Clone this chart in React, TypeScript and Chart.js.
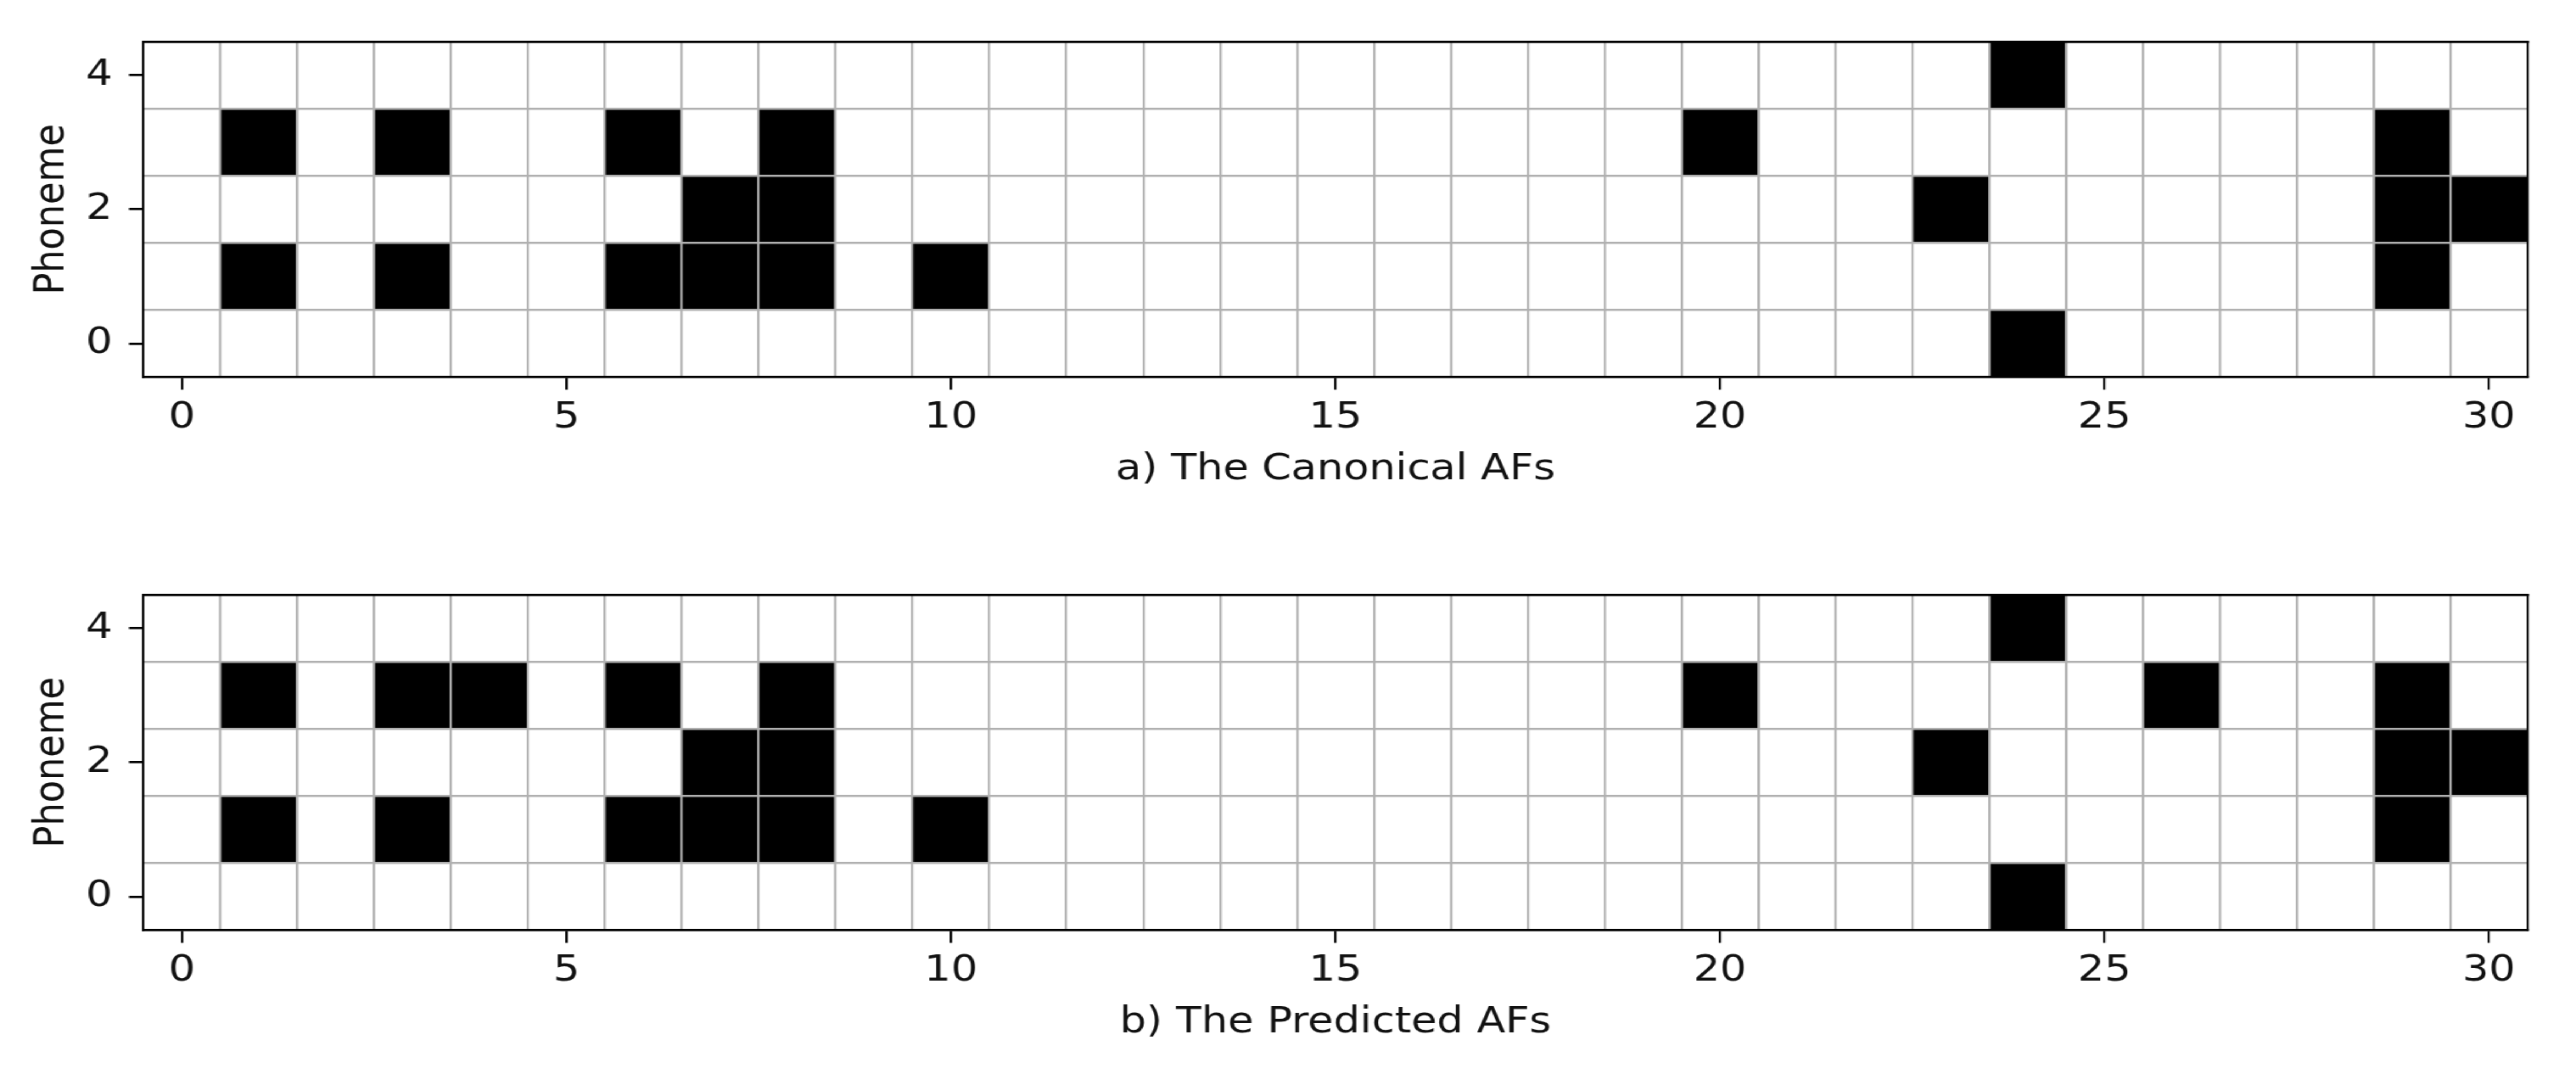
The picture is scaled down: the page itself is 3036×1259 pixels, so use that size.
import React, { useEffect, useRef } from 'react';
import { Chart, registerables } from 'chart.js';

Chart.register(...registerables);

// ---------- data ----------
const COLUMNS = [0, 1, 2, 3, 4, 5, 6, 7, 8, 9, 10, 11, 12, 13, 14, 15, 16, 17, 18, 19, 20, 21, 22, 23, 24, 25, 26, 27, 28, 29, 30];
const ROWS = [0, 1, 2, 3, 4];
const X_TICKS = [0, 5, 10, 15, 20, 25, 30];
const Y_TICKS = [0, 2, 4];
const Y_TITLE = 'Phoneme';
const CAPTION_A = 'a) The Canonical AFs';
const CAPTION_B = 'b) The Predicted AFs';

// canonical AFs (1 = active), one array per phoneme row
const canonicalRow0 = [0, 0, 0, 0, 0, 0, 0, 0, 0, 0, 0, 0, 0, 0, 0, 0, 0, 0, 0, 0, 0, 0, 0, 0, 1, 0, 0, 0, 0, 0, 0];
const canonicalRow1 = [0, 1, 0, 1, 0, 0, 1, 1, 1, 0, 1, 0, 0, 0, 0, 0, 0, 0, 0, 0, 0, 0, 0, 0, 0, 0, 0, 0, 0, 1, 0];
const canonicalRow2 = [0, 0, 0, 0, 0, 0, 0, 1, 1, 0, 0, 0, 0, 0, 0, 0, 0, 0, 0, 0, 0, 0, 0, 1, 0, 0, 0, 0, 0, 1, 1];
const canonicalRow3 = [0, 1, 0, 1, 0, 0, 1, 0, 1, 0, 0, 0, 0, 0, 0, 0, 0, 0, 0, 0, 1, 0, 0, 0, 0, 0, 0, 0, 0, 1, 0];
const canonicalRow4 = [0, 0, 0, 0, 0, 0, 0, 0, 0, 0, 0, 0, 0, 0, 0, 0, 0, 0, 0, 0, 0, 0, 0, 0, 1, 0, 0, 0, 0, 0, 0];

// predicted AFs
const predictedRow0 = [0, 0, 0, 0, 0, 0, 0, 0, 0, 0, 0, 0, 0, 0, 0, 0, 0, 0, 0, 0, 0, 0, 0, 0, 1, 0, 0, 0, 0, 0, 0];
const predictedRow1 = [0, 1, 0, 1, 0, 0, 1, 1, 1, 0, 1, 0, 0, 0, 0, 0, 0, 0, 0, 0, 0, 0, 0, 0, 0, 0, 0, 0, 0, 1, 0];
const predictedRow2 = [0, 0, 0, 0, 0, 0, 0, 1, 1, 0, 0, 0, 0, 0, 0, 0, 0, 0, 0, 0, 0, 0, 0, 1, 0, 0, 0, 0, 0, 1, 1];
const predictedRow3 = [0, 1, 0, 1, 1, 0, 1, 0, 1, 0, 0, 0, 0, 0, 0, 0, 0, 0, 0, 0, 1, 0, 0, 0, 0, 0, 1, 0, 0, 1, 0];
const predictedRow4 = [0, 0, 0, 0, 0, 0, 0, 0, 0, 0, 0, 0, 0, 0, 0, 0, 0, 0, 0, 0, 0, 0, 0, 0, 1, 0, 0, 0, 0, 0, 0];

const canonicalRows = [canonicalRow0, canonicalRow1, canonicalRow2, canonicalRow3, canonicalRow4];
const predictedRows = [predictedRow0, predictedRow1, predictedRow2, predictedRow3, predictedRow4];

// ---------- layout / style ----------
const W0 = 2647; // unstretched drawing width
const SX = 3036 / W0; // the reference figure is stretched horizontally
const FONT_FAMILY = 'DejaVu Sans';
const FONT_SIZE = 43;
const CHART_LEFT = 147.5;
const CHART_RIGHT = 2597;
const X_AXIS_H = 135.5;
const TEXT_COLOR = '#111111';
const GRID_COLOR = '#b0b0b0';

type PanelProps = {
  rows: number[][];
  caption: string;
  top: number;
  height: number;
  areaTop: number;
  areaBottom: number;
};

function Panel({ rows, caption, top, height, areaTop, areaBottom }: PanelProps) {
  const ref = useRef<HTMLCanvasElement | null>(null);

  useEffect(() => {
    const canvas = ref.current;
    if (!canvas) return;
    const font = { family: FONT_FAMILY, size: FONT_SIZE };
    const xMin = COLUMNS[0] - 0.5;
    const xMax = COLUMNS[COLUMNS.length - 1] + 0.5;
    const yMin = ROWS[0] - 0.5;
    const yMax = ROWS[ROWS.length - 1] + 0.5;

    const datasets = rows.map((vals, r) => ({
      label: `phoneme ${ROWS[r]}`,
      data: COLUMNS.map((c) => ({ x: c, y: [ROWS[r] - 0.5, ROWS[r] + 0.5] })),
      backgroundColor: vals.map((v) => (v ? '#000000' : 'rgba(255,255,255,0)')),
      borderWidth: 0,
      grouped: false,
      barPercentage: 1,
      categoryPercentage: 1,
      xAxisID: 'x',
      yAxisID: 'y',
    }));

    const chart = new Chart(canvas, {
      type: 'bar',
      data: { datasets } as any,
      options: {
        animation: false,
        responsive: false,
        devicePixelRatio: 1,
        events: [],
        layout: {
          padding: {
            left: 0,
            right: W0 - CHART_RIGHT,
            top: areaTop,
            bottom: height - areaBottom - X_AXIS_H,
          },
        },
        plugins: {
          legend: { display: false },
          tooltip: { enabled: false },
          title: { display: false },
        },
        scales: {
          x: {
            type: 'linear',
            position: 'bottom',
            min: xMin,
            max: xMax,
            offset: false,
            afterBuildTicks: (s: any) => {
              s.ticks = X_TICKS.map((v) => ({ value: v }));
            },
            afterFit: (s: any) => {
              s.height = X_AXIS_H;
            },
            grid: {
              offset: false,
              display: true,
              drawOnChartArea: false,
              drawTicks: true,
              tickLength: 15,
              tickColor: '#000000',
              tickWidth: 2.4,
              lineWidth: 2.4,
            },
            border: { display: true, color: '#000000', width: 2.7, z: 2 },
            ticks: {
              autoSkip: false,
              maxRotation: 0,
              minRotation: 0,
              padding: 8,
              color: TEXT_COLOR,
              font,
            },
            title: { display: true, text: caption, color: TEXT_COLOR, font, padding: 0 },
          },
          xg: {
            type: 'linear',
            position: 'bottom',
            min: xMin,
            max: xMax,
            offset: false,
            afterBuildTicks: (s: any) => {
              s.ticks = COLUMNS.slice(0, -1).map((c) => ({ value: c + 0.5 }));
            },
            afterFit: (s: any) => {
              s.height = 0;
            },
            grid: {
              offset: false,
              display: true,
              drawOnChartArea: true,
              drawTicks: false,
              color: GRID_COLOR,
              lineWidth: 2.4,
              z: 1,
            },
            border: { display: false },
            ticks: { display: false },
          },
          xt: {
            type: 'linear',
            position: 'top',
            min: xMin,
            max: xMax,
            offset: false,
            afterFit: (s: any) => {
              s.height = 0;
            },
            grid: { display: true, drawOnChartArea: false, drawTicks: false, lineWidth: 2.7 },
            border: { display: true, color: '#000000', width: 2.7, z: 2 },
            ticks: { display: false },
          },
          y: {
            type: 'linear',
            position: 'left',
            min: yMin,
            max: yMax,
            afterBuildTicks: (s: any) => {
              s.ticks = Y_TICKS.map((v) => ({ value: v }));
            },
            afterFit: (s: any) => {
              s.width = CHART_LEFT;
            },
            grid: {
              display: true,
              drawOnChartArea: false,
              drawTicks: true,
              tickLength: 15,
              tickColor: '#000000',
              tickWidth: 2.7,
              lineWidth: 2.7,
            },
            border: { display: true, color: '#000000', width: 2.4, z: 2 },
            ticks: { autoSkip: false, padding: 17, color: TEXT_COLOR, font },
            title: {
              display: true,
              text: Y_TITLE,
              color: TEXT_COLOR,
              font,
              padding: { top: 28, bottom: 0 },
            },
          },
          yg: {
            type: 'linear',
            position: 'left',
            min: yMin,
            max: yMax,
            afterBuildTicks: (s: any) => {
              s.ticks = ROWS.slice(0, -1).map((r) => ({ value: r + 0.5 }));
            },
            afterFit: (s: any) => {
              s.width = 0;
            },
            grid: {
              display: true,
              drawOnChartArea: true,
              drawTicks: false,
              color: GRID_COLOR,
              lineWidth: 2.6,
              z: 1,
            },
            border: { display: false },
            ticks: { display: false },
          },
          yr: {
            type: 'linear',
            position: 'right',
            min: yMin,
            max: yMax,
            afterFit: (s: any) => {
              s.width = 0;
            },
            grid: { display: true, drawOnChartArea: false, drawTicks: false, lineWidth: 2.4 },
            border: { display: true, color: '#000000', width: 2.4, z: 2 },
            ticks: { display: false },
          },
        },
      } as any,
    });

    return () => chart.destroy();
  }, [rows, caption, height, areaTop, areaBottom]);

  return (
    <canvas
      ref={ref}
      width={W0}
      height={height}
      style={{ position: 'absolute', left: 0, top, width: W0, height, display: 'block' }}
    />
  );
}

export default function App() {
  useEffect(() => {
    document.body.style.margin = '0';
    document.body.style.background = '#ffffff';
    document.documentElement.style.overflow = 'hidden';
  }, []);

  return (
    <div
      style={{
        position: 'absolute',
        left: 0,
        top: 0,
        width: W0,
        height: 1259,
        background: '#ffffff',
        transform: `scaleX(${SX})`,
        transformOrigin: '0 0',
        overflow: 'hidden',
      }}
    >
      <Panel rows={canonicalRows} caption={CAPTION_A} top={0} height={630} areaTop={49.3} areaBottom={444.4} />
      <Panel rows={predictedRows} caption={CAPTION_B} top={630} height={629} areaTop={71} areaBottom={466.5} />
    </div>
  );
}
